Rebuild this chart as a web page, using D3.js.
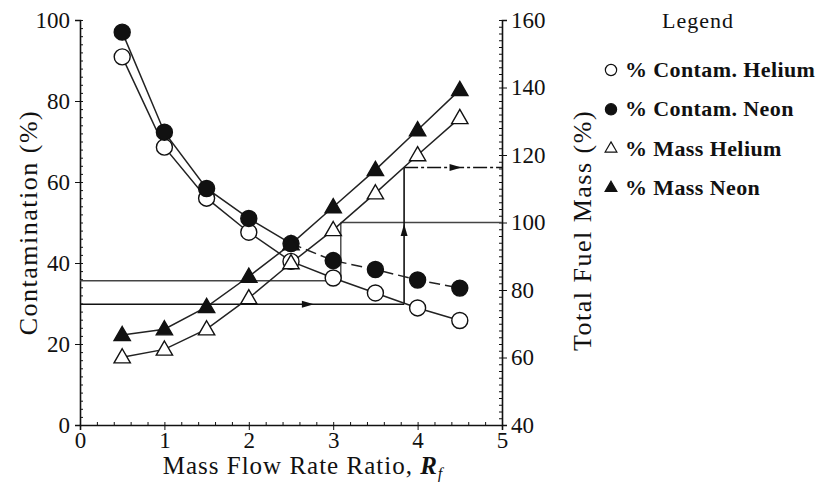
<!DOCTYPE html>
<html>
<head>
<meta charset="utf-8">
<script src="https://cdn.jsdelivr.net/npm/d3@7"></script>
<style>
  body { margin: 0; background: #fff; }
  text { font-family: 'Liberation Serif', 'DejaVu Serif', serif; fill: #111; }
</style>
</head>
<body>
<div id="chart"></div>
<script>
// mass flow rate ratio R_f
const ratios = [0.5, 1, 1.5, 2, 2.5, 3, 3.5, 4, 4.5];
// contamination (%), left axis
const contamHelium = [90.9, 68.6, 56.0, 47.6, 40.4, 36.3, 32.6, 28.9, 25.8];
const contamNeon = [97.0, 72.3, 58.4, 51.0, 44.8, 40.6, 38.4, 35.8, 33.8];
// total fuel mass (%), right axis
const massHelium = [60.1, 62.4, 68.4, 77.6, 88.0, 97.8, 108.7, 120.0, 131.0];
const massNeon = [66.7, 68.4, 75.0, 84.0, 93.6, 104.6, 115.6, 127.4, 139.3];

// read-off guides: contamination -> R_f -> fuel mass
const guides = [
  { r: 3.09, contam: 35.6, mass: 100, arrows: false },
  { r: 3.84, contam: 29.8, mass: 116.3, arrows: true }
];

const xTicks = [0, 1, 2, 3, 4, 5];
const leftTicks = [0, 20, 40, 60, 80, 100];
const rightTicks = [40, 60, 80, 100, 120, 140, 160];
const legendLabels = ['% Contam. Helium', '% Contam. Neon', '% Mass Helium', '% Mass Neon'];

const W = 828, H = 482;
const svg = d3.select('#chart').append('svg')
  .attr('width', W).attr('height', H);

const x = d3.scaleLinear().domain([0, 5]).range([80, 502]);
const yL = d3.scaleLinear().domain([0, 100]).range([425, 20]);
const yR = d3.scaleLinear().domain([40, 160]).range([425, 20]);

// axes
const gx = svg.append('g').attr('transform', `translate(0,${yL(0)})`)
  .call(d3.axisBottom(x).tickValues(xTicks).tickFormat(d3.format('d')).tickSize(5).tickPadding(2));
gx.append('g').attr('class', 'minor').call(d3.axisBottom(x).ticks(25).tickSize(-3).tickFormat(''));

const gl = svg.append('g').attr('transform', `translate(${x(0)},0)`)
  .call(d3.axisLeft(yL).tickValues(leftTicks).tickSize(5).tickPadding(5));
gl.append('g').attr('class', 'minor').call(d3.axisLeft(yL).ticks(50).tickSize(-3).tickFormat(''));

const gr = svg.append('g').attr('transform', `translate(${x(5)},0)`)
  .call(d3.axisRight(yR).tickValues(rightTicks).tickSize(5).tickPadding(4));
gr.append('g').attr('class', 'minor').call(d3.axisRight(yR).ticks(60).tickSize(-3).tickFormat(''));

svg.selectAll('.domain').attr('stroke', '#111').attr('stroke-width', 1.6);
svg.selectAll('.minor .domain').remove();
svg.selectAll('.tick line').attr('stroke', '#111');
svg.selectAll('.tick text').style('font-family', "'Liberation Serif', serif")
  .style('font-size', '23px').attr('fill', '#111');

// axis titles
svg.append('text')
  .attr('transform', `translate(37,${(yL(0) + yL(100)) / 2}) rotate(-90)`)
  .attr('text-anchor', 'middle').style('font-size', '26px').style('letter-spacing', '1.5px')
  .text('Contamination (%)');

svg.append('text')
  .attr('transform', `translate(591,${(yR(40) + yR(160)) / 2 + 8}) rotate(-90)`)
  .attr('text-anchor', 'middle').style('font-size', '26px').style('letter-spacing', '1.5px')
  .text('Total Fuel Mass (%)');

const xt = svg.append('text')
  .attr('x', 303).attr('y', 474)
  .attr('text-anchor', 'middle').style('font-size', '25px').style('letter-spacing', '1px');
xt.append('tspan').text('Mass Flow Rate Ratio,  ');
xt.append('tspan').style('font-style', 'italic').style('font-weight', 'bold').text('R');
xt.append('tspan').attr('dy', 5).style('font-size', '16px').style('font-style', 'italic').text('f');

// guide lines
const ink = '#222';
guides.forEach(g => {
  const gg = svg.append('g').attr('stroke', g.arrows ? '#111' : '#444')
    .attr('stroke-width', g.arrows ? 1.6 : 1.4).attr('fill', 'none');
  const y1 = yL(g.contam), y2 = yR(g.mass), xr = x(g.r);
  gg.append('line').attr('x1', x(0)).attr('x2', xr).attr('y1', y1).attr('y2', y1);
  gg.append('line').attr('x1', xr).attr('x2', xr).attr('y1', y1).attr('y2', y2);
  gg.append('line').attr('x1', xr).attr('x2', x(5)).attr('y1', y2).attr('y2', y2)
    .attr('stroke-dasharray', g.arrows ? '14,3,3,3' : null);
  if (g.arrows) {
    const head = (cx, cy, ang) => svg.append('path')
      .attr('d', 'M6,0 L-6,-3.5 L-6,3.5 Z')
      .attr('transform', `translate(${cx},${cy}) rotate(${ang})`)
      .attr('fill', '#111');
    head(x(2.7), y1, 0);
    head(xr, (y1 + y2) / 2 - 6, -90);
    head(x(4.45), y2, 0);
  }
});

// series lines
const contamLine = vals => d3.line().x((d, i) => x(ratios[i])).y(d => yL(d))(vals);
const massLine = vals => d3.line().x((d, i) => x(ratios[i])).y(d => yR(d))(vals);

svg.append('path').attr('d', contamLine(contamHelium))
  .attr('fill', 'none').attr('stroke', ink).attr('stroke-width', 1.5);
svg.append('path').attr('d', contamLine(contamNeon.slice(0, 5)))
  .attr('fill', 'none').attr('stroke', ink).attr('stroke-width', 1.5);
svg.append('path').attr('d', d3.line().x((d, i) => x(ratios[i + 4])).y(d => yL(d))(contamNeon.slice(4)))
  .attr('fill', 'none').attr('stroke', ink).attr('stroke-width', 1.5).attr('stroke-dasharray', '11,5');
svg.append('path').attr('d', massLine(massHelium))
  .attr('fill', 'none').attr('stroke', ink).attr('stroke-width', 1.5);
svg.append('path').attr('d', massLine(massNeon))
  .attr('fill', 'none').attr('stroke', ink).attr('stroke-width', 1.5);

// markers
const tri = d3.symbol().type(d3.symbolTriangle).size(115);
const circ = (vals, filled) => svg.append('g').selectAll('circle').data(vals).join('circle')
  .attr('cx', (d, i) => x(ratios[i])).attr('cy', d => yL(d)).attr('r', 8)
  .attr('fill', filled ? '#111' : '#fff').attr('stroke', '#111').attr('stroke-width', 1.4);
const tris = (vals, filled) => svg.append('g').selectAll('path').data(vals).join('path')
  .attr('d', tri).attr('transform', (d, i) => `translate(${x(ratios[i])},${yR(d) + 1})`)
  .attr('fill', filled ? '#111' : '#fff').attr('stroke', '#111').attr('stroke-width', 1.4);

circ(contamHelium, false);
circ(contamNeon, true);
tris(massHelium, false);
tris(massNeon, true);

// legend
svg.append('text').attr('x', 698).attr('y', 28).attr('text-anchor', 'middle')
  .style('font-size', '22px').style('letter-spacing', '1px').text('Legend');
const legendY = d3.scalePoint().domain(legendLabels).range([70, 188]);
const lg = svg.append('g').selectAll('g').data(legendLabels).join('g')
  .attr('transform', d => `translate(611,${legendY(d)})`);
lg.append('path')
  .attr('d', (d, i) => i < 2 ? d3.symbol().type(d3.symbolCircle).size(100)() : d3.symbol().type(d3.symbolTriangle).size(60)())
  .attr('fill', (d, i) => i % 2 ? '#111' : '#fff')
  .attr('stroke', '#111').attr('stroke-width', 1.2);
lg.append('text').attr('x', 14).attr('y', 7)
  .style('font-size', '22px').style('font-weight', 'bold').style('letter-spacing', '0.4px').text(d => d);
</script>
</body>
</html>
